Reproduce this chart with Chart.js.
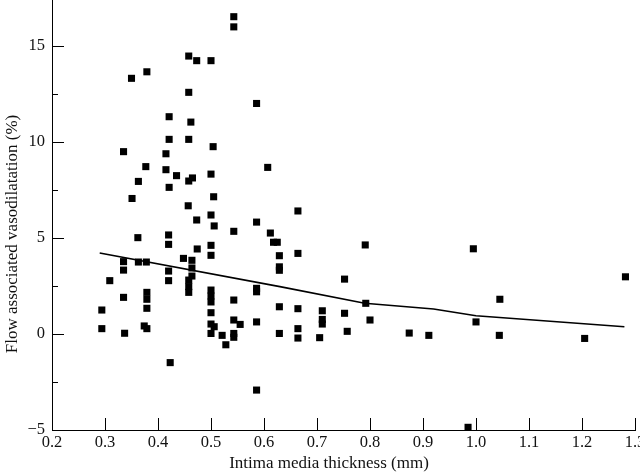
<!DOCTYPE html>
<html>
<head>
<meta charset="utf-8">
<script src="https://cdn.jsdelivr.net/npm/chart.js@4.4.1/dist/chart.umd.min.js"></script>
<style>
  html, body { margin: 0; padding: 0; background: #fff; }
  #wrap { width: 640px; height: 475px; }
</style>
</head>
<body>
<div id="wrap"><canvas id="fmdChart" width="640" height="475"></canvas></div>
<script>
// intima media thickness (mm) and flow associated vasodilatation (%) per subject
const imt = [
  0.294, 0.294, 0.309, 0.335, 0.335, 0.335, 0.335, 0.337, 0.350, 0.351,
  0.362, 0.363, 0.363, 0.374, 0.377, 0.378, 0.379, 0.379, 0.379, 0.379,
  0.379, 0.415, 0.415, 0.421, 0.421, 0.421, 0.420, 0.420, 0.420, 0.420,
  0.423, 0.435, 0.448, 0.457, 0.458, 0.458, 0.458, 0.458, 0.458, 0.458,
  0.458, 0.462, 0.464, 0.464, 0.464, 0.465, 0.473, 0.473, 0.474, 0.500,
  0.500, 0.500, 0.500, 0.500, 0.500, 0.500, 0.500, 0.500, 0.500, 0.500,
  0.504, 0.505, 0.506, 0.506, 0.521, 0.528, 0.543, 0.543, 0.543, 0.543,
  0.543, 0.543, 0.543, 0.555, 0.586, 0.586, 0.586, 0.586, 0.586, 0.586,
  0.607, 0.612, 0.618, 0.625, 0.629, 0.629, 0.629, 0.629, 0.629, 0.664,
  0.664, 0.664, 0.664, 0.664, 0.705, 0.710, 0.710, 0.710, 0.752, 0.752,
  0.757, 0.791, 0.792, 0.800, 0.874, 0.911, 0.985, 0.995, 1.000, 1.044,
  1.045, 1.205, 1.282
];
const fmd = [
  1.25, 0.28, 2.78, 9.50, 3.77, 3.33, 1.91, 0.04, 13.32, 7.06,
  5.02, 7.95, 3.75, 0.42, 8.72, 3.75, 13.66, 2.17, 1.81, 1.34,
  0.28, 9.39, 8.56, 11.32, 10.14, 7.64, 5.16, 4.67, 3.28, 2.78,
  -1.49, 8.25, 3.94, 6.68, 14.48, 12.59, 10.14, 7.97, 2.81, 2.47,
  2.17, 11.04, 3.84, 3.44, 3.02, 8.13, 14.24, 5.94, 4.43, 14.24,
  8.33, 6.20, 4.62, 4.10, 2.29, 1.98, 1.67, 1.11, 0.52, 0.03,
  9.76, 7.15, 5.63, 0.38, -0.07, -0.56, 16.53, 16.00, 5.35, 1.77,
  0.73, 0.03, -0.17, 0.50, 12.01, 5.83, 2.38, 2.20, 0.63, -2.92,
  8.68, 5.26, 4.78, 4.78, 4.08, 3.50, 3.32, 1.42, 0.03, 6.41,
  4.20, 1.32, 0.28, -0.21, -0.19, 1.21, 0.76, 0.52, 2.86, 1.08,
  0.14, 4.64, 1.60, 0.73, 0.05, -0.07, -4.86, 4.44, 0.63, -0.07,
  1.81, -0.23, 2.98
];
// smoothed fit line
const fitImt = [0.29, 0.63, 0.79, 0.92, 1.0, 1.28];
const fitFmd = [4.22, 2.47, 1.60, 1.30, 0.95, 0.38];

const xTicks = [0.2, 0.3, 0.4, 0.5, 0.6, 0.7, 0.8, 0.9, 1.0, 1.1, 1.2, 1.3];
const xTickLabels = ['0.2', '0.3', '0.4', '0.5', '0.6', '0.7', '0.8', '0.9', '1.0', '1.1', '1.2', '1.3'];
const yTicks = [-5, 0, 5, 10, 15];
const yTickLabels = ['\u22125', '0', '5', '10', '15'];
const yMinorTicks = [-2.5, 2.5, 7.5, 12.5];
const xTitle = 'Intima media thickness (mm)';
const yTitle = 'Flow associated vasodilatation (%)';

const serif = '"Liberation Serif", "Times New Roman", serif';

// inward tick marks + axis titles
const axisDecor = {
  id: 'axisDecor',
  afterDraw(chart) {
    const { ctx, chartArea, scales: { x, y } } = chart;
    ctx.save();
    ctx.strokeStyle = '#000';
    ctx.lineWidth = 1;
    ctx.beginPath();
    xTicks.forEach(v => {
      const px = Math.round(x.getPixelForValue(v)) + 0.5;
      ctx.moveTo(px, chartArea.bottom);
      ctx.lineTo(px, chartArea.bottom - 12);
    });
    yTicks.forEach(v => {
      const py = Math.round(y.getPixelForValue(v)) + 0.5;
      ctx.moveTo(chartArea.left, py);
      ctx.lineTo(chartArea.left + 12, py);
    });
    yMinorTicks.forEach(v => {
      const py = Math.round(y.getPixelForValue(v)) + 0.5;
      ctx.moveTo(chartArea.left, py);
      ctx.lineTo(chartArea.left + 6, py);
    });
    ctx.stroke();

    ctx.fillStyle = '#111';
    ctx.font = '17px ' + serif;
    ctx.textAlign = 'center';
    ctx.textBaseline = 'middle';
    ctx.fillText(xTitle, 329, 464);
    ctx.translate(13, 234);
    ctx.rotate(-Math.PI / 2);
    ctx.fillText(yTitle, 0, 0);
    ctx.restore();
  }
};

new Chart(document.getElementById('fmdChart'), {
  type: 'scatter',
  data: {
    datasets: [
      {
        label: 'Subjects',
        data: imt.map((v, i) => ({ x: v, y: fmd[i] })),
        pointStyle: 'rect',
        pointRadius: 5,
        pointHoverRadius: 5,
        backgroundColor: '#000',
        borderWidth: 0
      },
      {
        label: 'Fit',
        data: fitImt.map((v, i) => ({ x: v, y: fitFmd[i] })),
        showLine: true,
        borderColor: '#000',
        borderWidth: 1.6,
        pointRadius: 0,
        tension: 0
      }
    ]
  },
  options: {
    responsive: false,
    animation: false,
    devicePixelRatio: 1,
    layout: { autoPadding: false, padding: { left: 0, right: 5, top: 0, bottom: 0 } },
    plugins: { legend: { display: false }, tooltip: { enabled: false } },
    scales: {
      x: {
        type: 'linear',
        min: 0.2,
        max: 1.3,
        afterBuildTicks: s => { s.ticks = xTicks.map(v => ({ value: v })); },
        afterFit: s => { s.height = 45; s.paddingLeft = 0; s.paddingRight = 0; },
        grid: { display: false, drawTicks: false },
        border: { display: true, color: '#000', width: 1 },
        ticks: {
          autoSkip: false,
          maxRotation: 0,
          padding: 3,
          color: '#111',
          font: { family: serif, size: 16.5 },
          callback: (v, i) => xTickLabels[i]
        }
      },
      y: {
        type: 'linear',
        min: -5,
        max: 17.4,
        afterBuildTicks: s => { s.ticks = yTicks.map(v => ({ value: v })); },
        afterFit: s => { s.width = 52; s.paddingTop = 0; s.paddingBottom = 0; },
        grid: { display: false, drawTicks: false },
        border: { display: true, color: '#000', width: 1 },
        ticks: {
          padding: 7,
          color: '#111',
          font: { family: serif, size: 16.5 },
          callback: (v, i) => yTickLabels[i]
        }
      }
    }
  },
  plugins: [axisDecor]
});
</script>
</body>
</html>
